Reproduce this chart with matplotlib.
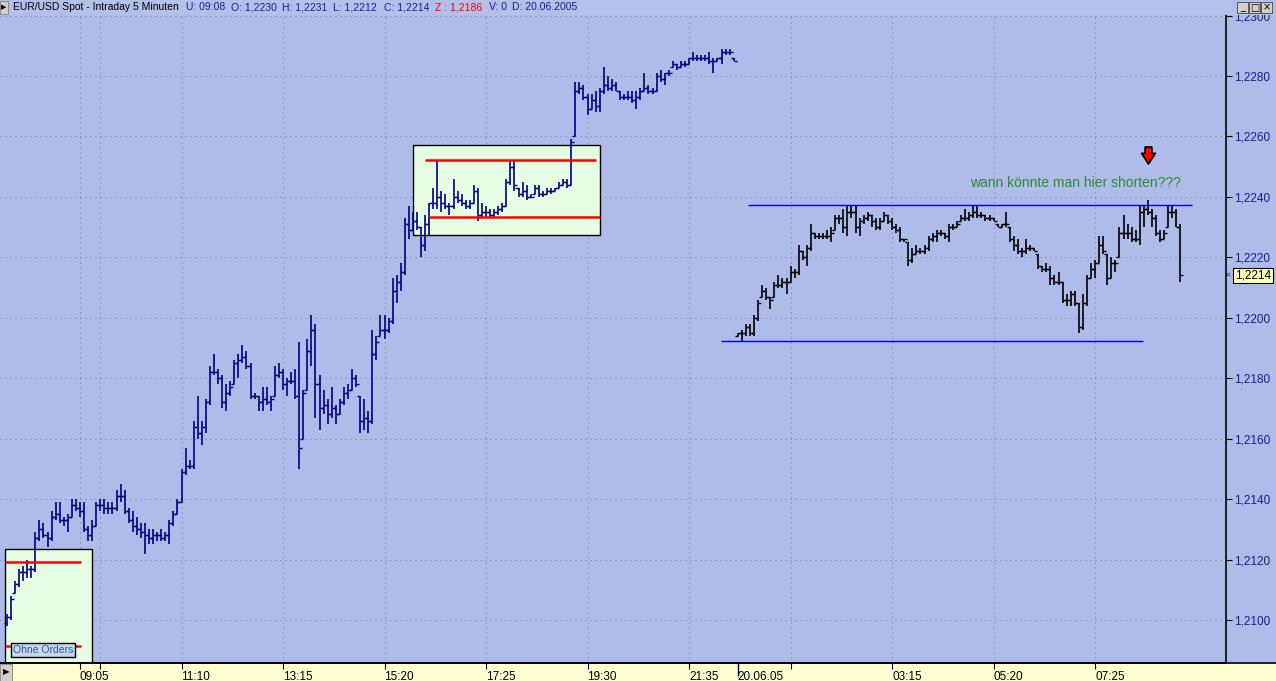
import matplotlib
matplotlib.use('Agg')
import matplotlib.pyplot as plt
import numpy as np
from matplotlib.patches import Rectangle
from matplotlib.path import Path
from matplotlib.lines import Line2D
from matplotlib import transforms

plt.rcParams['font.family'] = ['Liberation Sans', 'DejaVu Sans']

# ---------------- data: EUR/USD 5-minute bars ----------------
# Friday session (navy bars), first bar 07:35
fri_start = "07:35"
fri_high = [1.2102,1.2108,1.2113,1.2117,1.2118,1.2120,1.2118,1.2129,1.2133,1.2132,
            1.2129,1.2136,1.2139,1.2139,1.2134,1.2135,1.2140,1.2140,1.2139,1.2139,
            1.2131,1.2133,1.2139,1.2140,1.2140,1.2139,1.2139,1.2143,1.2145,1.2143,
            1.2137,1.2136,1.2134,1.2132,1.2132,1.2130,1.2130,1.2129,1.2130,1.2129,
            1.2133,1.2136,1.2140,1.2150,1.2157,1.2153,1.2166,1.2174,1.2166,1.2173,
            1.2184,1.2188,1.2183,1.2181,1.2178,1.2179,1.2186,1.2188,1.2191,1.2189,
            1.2185,1.2175,1.2174,1.2177,1.2177,1.2174,1.2184,1.2185,1.2183,1.2180,
            1.2182,1.2183,1.2192,1.2176,1.2193,1.2201,1.2198,1.2181,1.2176,1.2173,
            1.2177,1.2171,1.2173,1.2177,1.2178,1.2183,1.2181,1.2174,1.2173,1.2169,
            1.2196,1.2194,1.2201,1.2201,1.2200,1.2213,1.2214,1.2218,1.2233,1.2237,
            1.2235,1.2235,1.2230,1.2234,1.2238,1.2243,1.2252,1.2242,1.2241,1.2238,
            1.2246,1.2242,1.2241,1.2239,1.2239,1.2244,1.2243,1.2238,1.2237,1.2236,
            1.2236,1.2237,1.2238,1.2246,1.2252,1.2252,1.2243,1.2245,1.2244,1.2241,
            1.2244,1.2244,1.2242,1.2243,1.2243,1.2243,1.2245,1.2246,1.2246,1.2259,
            1.2278,1.2278,1.2277,1.2274,1.2274,1.2275,1.2276,1.2283,1.2280,1.2279,
            1.2278,1.2275,1.2274,1.2275,1.2275,1.2275,1.2276,1.2281,1.2277,1.2276,
            1.2281,1.2282,1.2281,1.2282,1.2285,1.2284,1.2285,1.2285,1.2286,1.2288,
            1.2287,1.2287,1.2287,1.2288,1.2286,1.2286,1.2289,1.2289,1.2289,1.2286]
fri_low = [1.2098,1.2100,1.2109,1.2111,1.2113,1.2114,1.2114,1.2116,1.2126,1.2127,
           1.2124,1.2126,1.2133,1.2132,1.2131,1.2129,1.2134,1.2136,1.2134,1.2129,
           1.2126,1.2126,1.2131,1.2136,1.2135,1.2135,1.2135,1.2136,1.2139,1.2135,
           1.2132,1.2129,1.2128,1.2127,1.2122,1.2125,1.2125,1.2126,1.2126,1.2126,
           1.2125,1.2131,1.2135,1.2139,1.2148,1.2150,1.2150,1.2160,1.2158,1.2162,
           1.2171,1.2181,1.2178,1.2170,1.2169,1.2174,1.2178,1.2180,1.2185,1.2183,
           1.2173,1.2173,1.2169,1.2169,1.2171,1.2169,1.2174,1.2180,1.2176,1.2174,
           1.2178,1.2173,1.2150,1.2160,1.2176,1.2184,1.2167,1.2163,1.2168,1.2165,
           1.2167,1.2165,1.2168,1.2171,1.2173,1.2176,1.2177,1.2162,1.2163,1.2162,
           1.2165,1.2186,1.2194,1.2193,1.2195,1.2198,1.2205,1.2209,1.2214,1.2226,
           1.2229,1.2229,1.2220,1.2222,1.2227,1.2236,1.2236,1.2235,1.2236,1.2234,
           1.2236,1.2238,1.2237,1.2236,1.2236,1.2238,1.2232,1.2233,1.2233,1.2233,
           1.2233,1.2234,1.2235,1.2237,1.2244,1.2242,1.2240,1.2240,1.2239,1.2240,
           1.2241,1.2240,1.2240,1.2241,1.2241,1.2242,1.2243,1.2244,1.2243,1.2244,
           1.2260,1.2274,1.2272,1.2267,1.2269,1.2268,1.2268,1.2274,1.2275,1.2275,
           1.2275,1.2272,1.2272,1.2272,1.2271,1.2269,1.2272,1.2275,1.2274,1.2274,
           1.2275,1.2278,1.2277,1.2280,1.2283,1.2282,1.2283,1.2283,1.2284,1.2285,
           1.2285,1.2285,1.2285,1.2284,1.2281,1.2285,1.2284,1.2287,1.2287,1.2285]
fri_close = [1.2101,1.2107,1.2112,1.2116,1.2116,1.2117,1.2117,1.2127,1.2130,1.2128,
             1.2127,1.2134,1.2135,1.2133,1.2133,1.2134,1.2138,1.2137,1.2136,1.2130,
             1.2128,1.2131,1.2138,1.2138,1.2137,1.2137,1.2137,1.2141,1.2141,1.2136,
             1.2133,1.2131,1.2130,1.2129,1.2128,1.2127,1.2128,1.2128,1.2127,1.2128,
             1.2132,1.2135,1.2139,1.2149,1.2151,1.2151,1.2164,1.2162,1.2164,1.2172,
             1.2182,1.2182,1.2180,1.2172,1.2175,1.2177,1.2185,1.2186,1.2187,1.2184,
             1.2174,1.2174,1.2172,1.2173,1.2172,1.2173,1.2181,1.2182,1.2178,1.2179,
             1.2179,1.2174,1.2157,1.2175,1.2189,1.2196,1.2178,1.2170,1.2171,1.2168,
             1.2170,1.2168,1.2172,1.2175,1.2176,1.2180,1.2178,1.2166,1.2167,1.2166,
             1.2188,1.2192,1.2196,1.2196,1.2199,1.2209,1.2212,1.2215,1.2231,1.2229,
             1.2232,1.2230,1.2224,1.2231,1.2238,1.2238,1.2240,1.2238,1.2237,1.2237,
             1.2240,1.2239,1.2238,1.2237,1.2238,1.2242,1.2234,1.2235,1.2235,1.2234,
             1.2235,1.2236,1.2237,1.2245,1.2250,1.2244,1.2241,1.2242,1.2240,1.2240,
             1.2243,1.2241,1.2241,1.2242,1.2242,1.2243,1.2244,1.2245,1.2244,1.2258,
             1.2275,1.2276,1.2273,1.2269,1.2272,1.2270,1.2275,1.2277,1.2276,1.2277,
             1.2275,1.2273,1.2273,1.2273,1.2272,1.2273,1.2275,1.2276,1.2275,1.2275,
             1.2280,1.2279,1.2281,1.2281,1.2284,1.2283,1.2284,1.2284,1.2286,1.2286,
             1.2286,1.2286,1.2286,1.2285,1.2285,1.2286,1.2288,1.2288,1.2288,1.2285]
fri_first_open = 1.2099

# Monday 20.06.2005 session (black bars), first bar 00:05
mon_start = "00:05"
mon_high = [1.2195,1.2196,1.2198,1.2198,1.2201,1.2206,1.2211,1.2210,1.2207,1.2212,
            1.2214,1.2213,1.2213,1.2217,1.2216,1.2224,1.2222,1.2224,1.2231,1.2228,
            1.2228,1.2228,1.2229,1.2230,1.2234,1.2234,1.2236,1.2237,1.2237,1.2237,
            1.2233,1.2234,1.2235,1.2234,1.2233,1.2233,1.2235,1.2234,1.2233,1.2231,
            1.2230,1.2226,1.2225,1.2223,1.2224,1.2223,1.2224,1.2227,1.2228,1.2229,
            1.2229,1.2228,1.2231,1.2231,1.2232,1.2234,1.2236,1.2235,1.2237,1.2237,
            1.2235,1.2234,1.2234,1.2233,1.2231,1.2231,1.2235,1.2230,1.2227,1.2226,
            1.2223,1.2226,1.2224,1.2223,1.2221,1.2217,1.2218,1.2217,1.2214,1.2215,
            1.2212,1.2208,1.2209,1.2209,1.2205,1.2208,1.2214,1.2218,1.2219,1.2227,
            1.2227,1.2221,1.2220,1.2219,1.2230,1.2234,1.2231,1.2230,1.2229,1.2237,
            1.2237,1.2239,1.2236,1.2234,1.2229,1.2229,1.2237,1.2237,1.2236,1.2231]
mon_low = [1.2194,1.2192,1.2194,1.2194,1.2194,1.2199,1.2207,1.2206,1.2203,1.2207,
           1.2210,1.2210,1.2208,1.2212,1.2213,1.2214,1.2219,1.2217,1.2222,1.2226,
           1.2226,1.2226,1.2226,1.2225,1.2229,1.2231,1.2228,1.2227,1.2233,1.2228,
           1.2227,1.2231,1.2232,1.2230,1.2229,1.2229,1.2232,1.2231,1.2229,1.2228,
           1.2225,1.2225,1.2217,1.2218,1.2221,1.2221,1.2221,1.2222,1.2225,1.2225,
           1.2227,1.2226,1.2225,1.2229,1.2230,1.2232,1.2232,1.2232,1.2233,1.2233,
           1.2233,1.2232,1.2232,1.2232,1.2230,1.2230,1.2230,1.2225,1.2222,1.2221,
           1.2220,1.2221,1.2222,1.2222,1.2216,1.2215,1.2215,1.2211,1.2211,1.2211,
           1.2205,1.2204,1.2204,1.2204,1.2195,1.2196,1.2204,1.2213,1.2213,1.2218,
           1.2221,1.2211,1.2213,1.2215,1.2220,1.2226,1.2226,1.2225,1.2225,1.2224,
           1.2230,1.2234,1.2230,1.2227,1.2225,1.2226,1.2230,1.2233,1.2230,1.2212]
mon_close = [1.2195,1.2195,1.2197,1.2195,1.2200,1.2205,1.2209,1.2207,1.2206,1.2211,
             1.2211,1.2212,1.2212,1.2215,1.2215,1.2222,1.2220,1.2223,1.2228,1.2227,
             1.2227,1.2227,1.2227,1.2228,1.2233,1.2233,1.2230,1.2235,1.2235,1.2230,
             1.2232,1.2233,1.2234,1.2232,1.2230,1.2232,1.2234,1.2232,1.2230,1.2229,
             1.2226,1.2226,1.2219,1.2221,1.2222,1.2222,1.2223,1.2226,1.2227,1.2228,
             1.2228,1.2227,1.2230,1.2230,1.2231,1.2233,1.2233,1.2234,1.2235,1.2234,
             1.2234,1.2233,1.2233,1.2232,1.2230,1.2231,1.2231,1.2226,1.2224,1.2222,
             1.2222,1.2223,1.2223,1.2222,1.2217,1.2216,1.2216,1.2213,1.2212,1.2212,
             1.2206,1.2206,1.2208,1.2205,1.2197,1.2205,1.2213,1.2216,1.2218,1.2224,
             1.2222,1.2213,1.2218,1.2218,1.2228,1.2228,1.2228,1.2226,1.2226,1.2235,
             1.2236,1.2235,1.2233,1.2228,1.2226,1.2228,1.2235,1.2235,1.2230,1.2214]
mon_first_open = 1.2194

# axis ticks
price_ticks = [1.2100, 1.2120, 1.2140, 1.2160, 1.2180, 1.2200,
               1.2220, 1.2240, 1.2260, 1.2280, 1.2300]
time_ticks = ['09:05', '11:10', '13:15', '15:20', '17:25', '19:30', '21:35',
              '01:10', '03:15', '05:20', '07:25', '09:30']
time_labels = ['09:05', '11:10', '13:15', '15:20', '17:25', '19:30', '21:35',
               '', '03:15', '05:20', '07:25', '']
date_label = '20.06.05'

# drawn levels (prices)
box1 = dict(x0=-0.47, x1=21.03, top=1.21234)
box1_red = [1.21193, 1.20915]
box1_red_x1 = 18.2
box2 = dict(x0=100.1, x1=146.0, bottom=1.22273, top=1.22572)
box2_red = [(1.22522, 102.97, 145.0), (1.22335, 104.0, 146.0)]
res_line = (1.22372, 182.6, 291.8)
sup_line = (1.21923, 175.9, 279.7)
question = 'wann könnte man hier shorten???'
question_pos = (263.2, 1.22446)
arrow_bar = 281
arrow_price = 1.22537

# ---------------- derived arrays ----------------
def tmin(s):
    h, m = s.split(':')
    return int(h) * 60 + int(m)

n_fri, n_mon = len(fri_high), len(mon_high)
x_fri = np.arange(n_fri)
x_mon = n_fri + np.arange(n_mon)
fri_open = np.clip([fri_first_open] + fri_close[:-1], fri_low, fri_high)
mon_open = np.clip([mon_first_open] + mon_close[:-1], mon_low, mon_high)

def tick_pos(t):
    m = tmin(t)
    if m >= tmin(fri_start):
        return (m - tmin(fri_start)) / 5
    return n_fri + (m - tmin(mon_start)) / 5

tick_x = [tick_pos(t) for t in time_ticks]

# ---------------- figure ----------------
W, H = 1276, 681
BG = '#afbce9'
HEADER = '#b4c0ea'
STRIP = '#ffffd2'
NAVY = '#000080'
LBL = '#1c1c88'

fig = plt.figure(figsize=(W / 100, H / 100), dpi=100, facecolor=BG)
px = transforms.Affine2D().scale(1 / W, -1 / H).translate(0, 1) + fig.transFigure

ax = fig.add_axes([0, 18 / H, 1226 / W, (663 - 15) / H])
ax.set_facecolor(BG)
ax.set_xlim(-1.70, 300.24)
ax.set_ylim(1.208577, 1.230018)

# boxes
ax.add_patch(Rectangle((box1['x0'], 1.2080), box1['x1'] - box1['x0'],
                       box1['top'] - 1.2080, fc='#e6ffe4', ec='black', lw=1.0, zorder=1))
ax.add_patch(Rectangle((box2['x0'], box2['bottom']), box2['x1'] - box2['x0'],
                       box2['top'] - box2['bottom'], fc='#e6ffe4', ec='black', lw=1.0, zorder=1))

# grid
ax.set_yticks(price_ticks)
ax.set_yticklabels([f"{p:.4f}".replace('.', ',') for p in price_ticks])
ax.set_xticks(tick_x)
ax.set_xticklabels(time_labels)
ax.set_xticks([n_fri], minor=True)
ax.set_xticklabels([date_label], minor=True)
ax.grid(True, which='major', color='#7a7a7a', linestyle=(0, (1, 4)), linewidth=0.72, zorder=0)
ax.set_axisbelow(True)

# OHLC bars
tick_len = 0.75
for xs, o, h, l, c, col in [(x_fri, fri_open, fri_high, fri_low, fri_close, NAVY),
                            (x_mon, mon_open, mon_high, mon_low, mon_close, 'black')]:
    ax.vlines(xs, l, h, colors=col, lw=1.2, zorder=3)
    ax.hlines(o, xs - tick_len, xs, colors=col, lw=1.0, zorder=3)
    ax.hlines(c, xs, xs + tick_len, colors=col, lw=1.0, zorder=3)

# red range lines
for p in box1_red:
    ax.hlines(p, box1['x0'], box1_red_x1, colors='#ff0000', lw=1.8, zorder=4)
for p, a, b in box2_red:
    ax.hlines(p, a, b, colors='#ff0000', lw=1.8, zorder=4)

# blue trend lines
ax.hlines(res_line[0], res_line[1], res_line[2], colors='#0000d8', lw=1.0, zorder=4)
ax.hlines(sup_line[0], sup_line[1], sup_line[2], colors='#0000d8', lw=1.0, zorder=4)

# label "Ohne Orders"
ax.text(8.9, 1.20901, 'Ohne Orders', fontsize=7.5, color='#3a5a8c', ha='center', va='center',
        zorder=6, bbox=dict(boxstyle='square,pad=0.18', fc='#c6d6f2', ec='black', lw=1.0))

# question text and red arrow
ax.text(question_pos[0], question_pos[1], question, fontsize=10, color='#2e8b2e',
        ha='center', va='center', zorder=6)
arrow_path = Path([(-0.4, 1.0), (0.4, 1.0), (0.4, 0.26), (0.82, 0.26), (0.0, -1.0),
                   (-0.82, 0.26), (-0.4, 0.26), (-0.4, 1.0)],
                  [Path.MOVETO] + [Path.LINETO] * 6 + [Path.CLOSEPOLY])
ax.plot([arrow_bar], [arrow_price], marker=arrow_path, ms=12.2, mfc='#ff0000',
        mec='black', mew=1.2, ls='none', zorder=7)

# axes styling
for s in ['left', 'top']:
    ax.spines[s].set_visible(False)
for s in ['right', 'bottom']:
    ax.spines[s].set_color('black')
    ax.spines[s].set_linewidth(1.2)
ax.yaxis.tick_right()
ax.tick_params(axis='y', which='major', direction='out', length=4, width=0.8,
               color='black', labelcolor=LBL, labelsize=8.5, pad=2)
ax.tick_params(axis='x', which='major', direction='out', length=4, width=0.8,
               color='black', labelcolor='black', labelsize=8.5, pad=2)
ax.tick_params(axis='x', which='minor', direction='out', length=9, width=1.0,
               color='black', labelcolor='black', labelsize=8.5, pad=-3)
for lbl in ax.get_xticklabels(which='both'):
    lbl.set_horizontalalignment('left')

# current price box
bl = transforms.blended_transform_factory(ax.transAxes, ax.transData)
last = mon_close[-1]
ax.text(1235 / 1226, last, f"{last:.4f}".replace('.', ','), transform=bl, fontsize=8.5,
        color='black', ha='left', va='center', clip_on=False, zorder=8,
        bbox=dict(boxstyle='square,pad=0.15', fc='#ffffc0', ec='black', lw=0.8))
ax.text(1228.5 / 1226, last, '<', transform=bl, fontsize=6, color='black',
        ha='center', va='center', clip_on=False, zorder=8)

# bottom strip and full-width axis line
fig.patches.append(Rectangle((0, 0), W, 18, transform=transforms.Affine2D().scale(1 / W, 1 / H) + fig.transFigure,
                             fc=STRIP, ec='none', zorder=-5))
fig.lines.append(Line2D([0, 1], [18 / H, 18 / H], transform=fig.transFigure, color='black', lw=1.2, zorder=5))
# bottom-left scroll button
fig.patches.append(Rectangle((0, 664), 12, 17, transform=px, fc='#d4d0c8', ec='#808080', lw=0.6, zorder=6))
fig.text(6 / W, 1 - 672.5 / H, '\u25B6', fontsize=6, ha='center', va='center', color='black', zorder=7)

# header bar
hax = fig.add_axes([0, 1 - 15 / H, 1, 15 / H], zorder=5)
hax.set_facecolor(HEADER)
hax.set_xticks([]); hax.set_yticks([])
for s in hax.spines.values():
    s.set_visible(False)
hax.axhline(0.03, color='#6a6a6a', lw=0.72, ls=(0, (1, 2)))
fig.patches.append(Rectangle((0, 1), 8, 13, transform=px, fc='#d4d0c8', ec='#808080', lw=0.6, zorder=6))
fig.text(4 / W, 1 - 7.5 / H, '\u25B6', fontsize=5, ha='center', va='center', color='black', zorder=7)

o_last, h_last, l_last, c_last = mon_open[-1], mon_high[-1], mon_low[-1], mon_close[-1]
fmt = lambda v: f"{v:.4f}".replace('.', ',')
header_parts = [
    (13, 'EUR/USD Spot - Intraday 5 Minuten', 'black'),
    (186, 'U: 09:08', LBL),
    (231, 'O: ' + fmt(o_last), LBL),
    (282, 'H: ' + fmt(h_last), LBL),
    (333, 'L: ' + fmt(l_last), LBL),
    (384, 'C: ' + fmt(c_last), LBL),
    (435, 'Z : 1,2186', '#ff0000'),
    (489, 'V: 0', LBL),
    (512, 'D: 20.06.2005', LBL),
]
for x, s, col in header_parts:
    fig.text(x / W, 1 - 7.5 / H, s, fontsize=7.5, color=col, ha='left', va='center', zorder=7)

# window buttons
for i, g in enumerate(['_', '\u25A1', '\u00D7']):
    x0 = 1237 + i * 12
    fig.patches.append(Rectangle((x0, 2), 11, 11, transform=px, fc='#d4d0c8', ec='#404040', lw=0.6, zorder=6))
    fig.text((x0 + 5.5) / W, 1 - 7.5 / H, g, fontsize=7, ha='center', va='center',
             color='black', zorder=7, family=['DejaVu Sans'])

fig.savefig('out.png', dpi=100, facecolor=BG)
